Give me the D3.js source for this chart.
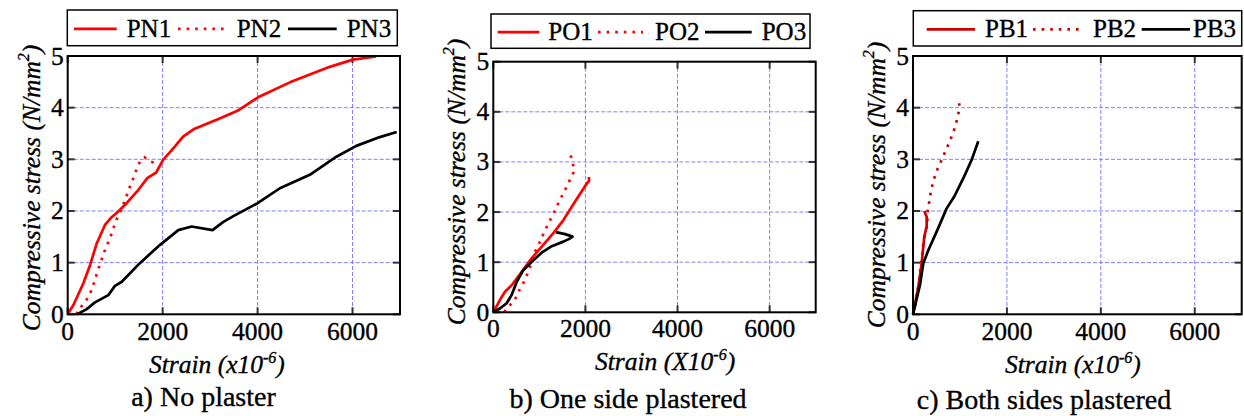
<!DOCTYPE html>
<html>
<head>
<meta charset="utf-8">
<script src="https://cdn.jsdelivr.net/npm/d3@7"></script>
<style>
  body { margin: 0; background: #fff; }
  svg { display: block; }
  text { font-family: "Liberation Serif", "Times New Roman", Times, serif; fill: #000; stroke: #000; stroke-width: 0.35px; }
</style>
</head>
<body>
<svg id="chart" width="1244" height="416"></svg>
<script>
// Axis ticks shared by the three panels
const strainTicks = [0, 2000, 4000, 6000];
const stressTicks = [0, 1, 2, 3, 4, 5];

// Stress-strain curves: [strain (x10^-6), compressive stress (N/mm^2)]
// a) No plaster
const pn1 = [[0,0],[120,0.18],[330,0.6],[470,0.95],[610,1.37],[785,1.73],[925,1.88],[1065,1.99],[1240,2.15],[1490,2.41],[1680,2.64],[1860,2.74],[2010,2.99],[2260,3.25],[2430,3.44],[2650,3.58],[3200,3.79],[3600,3.95],[4010,4.2],[4680,4.49],[5520,4.79],[6010,4.93],[6500,4.99]];
const pn2 = [[180,0],[240,0.1],[385,0.26],[505,0.47],[575,0.68],[645,0.87],[715,1.06],[800,1.28],[890,1.47],[960,1.66],[1045,1.87],[1140,2.05],[1227,2.26],[1310,2.47],[1395,2.66],[1473,2.87],[1540,2.98],[1620,3.04],[1700,2.98],[1820,2.93]];
const pn3 = [[200,0],[400,0.1],[575,0.23],[855,0.37],[995,0.55],[1140,0.63],[1520,0.99],[1940,1.34],[2330,1.63],[2610,1.7],[3050,1.63],[3280,1.79],[3490,1.9],[4000,2.15],[4470,2.44],[5100,2.7],[5660,3.05],[6080,3.26],[6575,3.43],[6930,3.53]];
// b) One side plastered
const po1 = [[0,0],[146,0.25],[254,0.41],[400,0.54],[617,0.81],[835,1.08],[1052,1.31],[1304,1.58],[1522,1.84],[1776,2.21],[2030,2.57],[2080,2.62],[2075,2.7]];
const po2 = [[240,0],[290,0.08],[457,0.23],[565,0.44],[667,0.61],[761,0.81],[835,1.0],[907,1.21],[1015,1.41],[1109,1.61],[1217,1.81],[1326,2.01],[1428,2.21],[1543,2.41],[1646,2.61],[1748,2.8],[1760,2.82],[1720,3.0],[1650,3.22]];
const po3 = [[0,0],[150,0.08],[290,0.18],[400,0.35],[510,0.61],[650,0.84],[835,1.01],[1050,1.19],[1270,1.32],[1520,1.41],[1640,1.46],[1720,1.51],[1560,1.56],[1360,1.6]];
// c) Both sides plastered
const pb1 = [[0,0],[113,0.53],[185,0.99],[240,1.5],[291,1.7],[291,1.89],[240,2.0]];
const pb2 = [[0,0],[43,0.15],[79,0.41],[128,0.6],[170,1.0],[199,1.18],[220,1.39],[270,1.6],[305,1.79],[312,1.99],[348,2.19],[383,2.39],[440,2.6],[511,2.79],[610,2.99],[702,3.18],[802,3.39],[879,3.58],[943,3.78],[985,3.97],[985,4.18]];
const pb3 = [[0,0],[149,0.57],[220,0.99],[326,1.24],[504,1.6],[717,2.05],[879,2.28],[1070,2.63],[1249,2.99],[1390,3.35]];

const namesA = ["PN1", "PN2", "PN3"];
const namesB = ["PO1", "PO2", "PO3"];
const namesC = ["PB1", "PB2", "PB3"];

// Panel layout
const panels = [
  { title: "a) No plaster", xUnit: "x10", names: namesA, series: [pn1, pn2, pn3], red: "#ff0000",
    box: { l: 67.7, r: 400, t: 56, b: 314.3 },
    legend: { x0: 67.3, x1: 397.3, y0: 10, y1: 45.7, items: [[74, 116.7, 126.7], [178, 225, 236.7], [288, 336.7, 346.7]] },
    yLabelX: 40, yLabelY: 188, xLabelX: 149, xLabelY: 373, titleX: 203.5, titleY: 406, tickY: 340 },
  { title: "b) One side plastered", xUnit: "X10", names: namesB, series: [po1, po2, po3], red: "#ff0000",
    box: { l: 493.3, r: 815.7, t: 61.7, b: 312.3 },
    legend: { x0: 491, x1: 810, y0: 14, y1: 48.3, items: [[497.7, 539.3, 548.3], [598, 643, 655], [705, 751.7, 761.7]] },
    yLabelX: 465, yLabelY: 182, xLabelX: 595, xLabelY: 370, titleX: 628, titleY: 408, tickY: 337 },
  { title: "c) Both sides plastered", xUnit: "x10", names: namesC, series: [pb1, pb2, pb3], red: "#cc0000",
    box: { l: 913, r: 1241.7, t: 56, b: 314.3 },
    legend: { x0: 913.3, x1: 1241.7, y0: 10.7, y1: 46, items: [[926.7, 975, 985], [1033, 1080, 1093], [1141.7, 1190, 1193]] },
    yLabelX: 885, yLabelY: 185, xLabelX: 1005, xLabelY: 373, titleX: 1044, titleY: 409, tickY: 340 }
];

const svg = d3.select("#chart");
const gridColor = "#7f7fff";
const dotDash = "2.6,6";

panels.forEach(p => {
  const g = svg.append("g");
  const x = d3.scaleLinear().domain([0, 7000]).range([p.box.l, p.box.r]);
  const y = d3.scaleLinear().domain([0, 5]).range([p.box.b, p.box.t]);
  const styles = [
    { color: p.red, dash: null },
    { color: p.red, dash: dotDash },
    { color: "#000", dash: null }
  ];

  // dashed grid
  g.append("g").selectAll("line").data(strainTicks.filter(d => d > 0)).join("line")
    .attr("x1", d => x(d)).attr("x2", d => x(d))
    .attr("y1", p.box.t).attr("y2", p.box.b)
    .attr("stroke", gridColor).attr("stroke-width", 1).attr("stroke-dasharray", "4,2");
  g.append("g").selectAll("line").data(stressTicks.filter(d => d > 0 && d < 5)).join("line")
    .attr("y1", d => y(d)).attr("y2", d => y(d))
    .attr("x1", p.box.l).attr("x2", p.box.r)
    .attr("stroke", gridColor).attr("stroke-width", 1).attr("stroke-dasharray", "4,2");

  // inward tick marks on all four sides
  const tickLen = 7;
  const tk = g.append("g").attr("stroke", "#333").attr("stroke-width", 2);
  strainTicks.forEach(d => {
    tk.append("line").attr("x1", x(d)).attr("x2", x(d)).attr("y1", p.box.b).attr("y2", p.box.b - tickLen);
    tk.append("line").attr("x1", x(d)).attr("x2", x(d)).attr("y1", p.box.t).attr("y2", p.box.t + tickLen);
  });
  stressTicks.forEach(d => {
    tk.append("line").attr("y1", y(d)).attr("y2", y(d)).attr("x1", p.box.l).attr("x2", p.box.l + tickLen);
    tk.append("line").attr("y1", y(d)).attr("y2", y(d)).attr("x1", p.box.r).attr("x2", p.box.r - tickLen);
  });

  // curves
  const line = d3.line().x(d => x(d[0])).y(d => y(d[1])).curve(d3.curveLinear);
  p.series.forEach((s, i) => {
    g.append("path").datum(s).attr("d", line)
      .attr("fill", "none")
      .attr("stroke", styles[i].color)
      .attr("stroke-width", 2.7)
      .attr("stroke-linejoin", "round")
      .attr("stroke-dasharray", styles[i].dash);
  });

  // axes frame
  g.append("rect")
    .attr("x", p.box.l).attr("y", p.box.t)
    .attr("width", p.box.r - p.box.l).attr("height", p.box.b - p.box.t)
    .attr("fill", "none").attr("stroke", "#000").attr("stroke-width", 2);

  // tick labels
  g.append("g").selectAll("text").data(strainTicks).join("text")
    .attr("x", d => x(d)).attr("y", p.tickY)
    .attr("text-anchor", "middle").attr("font-size", 25.5)
    .text(d => d);
  g.append("g").selectAll("text").data(stressTicks).join("text")
    .attr("x", p.box.l - 4).attr("y", d => y(d) + 8.5)
    .attr("text-anchor", "end").attr("font-size", 25.5)
    .text(d => d);

  // x-axis label
  const xl = g.append("text")
    .attr("x", p.xLabelX).attr("y", p.xLabelY)
    .attr("font-size", 25.5).attr("font-style", "italic");
  xl.append("tspan").text("Strain (" + p.xUnit);
  xl.append("tspan").attr("dy", -10).attr("font-size", 16).text("-6");
  xl.append("tspan").attr("dy", 10).text(")");

  // y-axis label
  const yl = g.append("text")
    .attr("transform", `translate(${p.yLabelX},${p.yLabelY}) rotate(-90)`)
    .attr("text-anchor", "middle")
    .attr("font-size", 25.5).attr("font-style", "italic");
  yl.append("tspan").text("Compressive stress (N/mm");
  yl.append("tspan").attr("dy", -11).attr("font-size", 16).text("2");
  yl.append("tspan").attr("dy", 11).text(")");

  // panel caption
  g.append("text")
    .attr("x", p.titleX).attr("y", p.titleY)
    .attr("text-anchor", "middle").attr("font-size", 28)
    .text(p.title);

  // legend
  const L = p.legend;
  const lg = g.append("g");
  lg.append("rect")
    .attr("x", L.x0).attr("y", L.y0)
    .attr("width", L.x1 - L.x0).attr("height", L.y1 - L.y0)
    .attr("fill", "#fff").attr("stroke", "#000").attr("stroke-width", 1.5);
  const cy = (L.y0 + L.y1) / 2;
  L.items.forEach((it, i) => {
    lg.append("line")
      .attr("x1", it[0]).attr("x2", it[1]).attr("y1", cy + 1).attr("y2", cy + 1)
      .attr("stroke", styles[i].color).attr("stroke-width", 2.7)
      .attr("stroke-dasharray", styles[i].dash);
    lg.append("text")
      .attr("x", it[2]).attr("y", cy + 9)
      .attr("font-size", 25)
      .text(p.names[i]);
  });
});
</script>
</body>
</html>
